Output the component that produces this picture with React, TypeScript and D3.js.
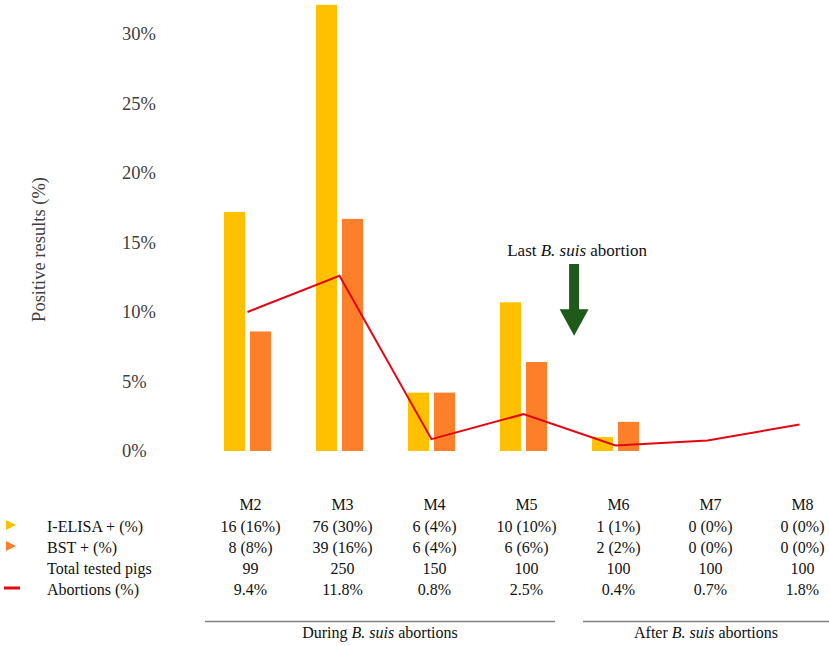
import React from 'react';
import * as d3 from 'd3';

// months shown on the x axis / table columns
const categories = ['M2', 'M3', 'M4', 'M5', 'M6', 'M7', 'M8'];

// bar heights as plotted (%)
const elisaPct = [17.2, 32.1, 4.2, 10.7, 1.0, 0, 0];
const bstPct = [8.6, 16.7, 4.2, 6.4, 2.1, 0, 0];
// abortion line as plotted (%)
const abortionPct = [10.0, 12.6, 0.85, 2.65, 0.4, 0.75, 1.9];

// table rows
const elisaLabels = ['16 (16%)', '76 (30%)', '6 (4%)', '10 (10%)', '1 (1%)', '0 (0%)', '0 (0%)'];
const bstLabels = ['8 (8%)', '39 (16%)', '6 (4%)', '6 (6%)', '2 (2%)', '0 (0%)', '0 (0%)'];
const totalTested = ['99', '250', '150', '100', '100', '100', '100'];
const abortionLabels = ['9.4%', '11.8%', '0.8%', '2.5%', '0.4%', '0.7%', '1.8%'];

const yTicks = [0, 5, 10, 15, 20, 25, 30];

const W = 829;
const H = 646;
const FONT = 'Liberation Serif, DejaVu Serif, serif';
const ELISA = '#FFC000';
const BST = '#FD7F29';
const RED = '#E30613';
const GREEN = '#1F5A1B';

const App: React.FC = () => {
  const x = d3.scaleBand<string>().domain(categories).range([201.5, 201.5 + 92 * categories.length]).padding(0);
  const y = d3.scaleLinear().domain([0, 30]).range([451, 34]);
  const step = x.step();
  const cx = (c: string) => (x(c) as number) + step / 2;
  const barW = 21;

  const line = d3
    .line<number>()
    .x((_, i) => cx(categories[i]))
    .y((d) => y(d));

  // table rows
  const rowY = { head: 508, elisa: 530, bst: 551, total: 572, abort: 593 };
  const tableX = (c: string) => cx(c) + 3;

  // arrow between M5 and M6
  const ax = cx('M5') + step * 0.55;
  const aTop = y(13.45);
  const aNeck = y(10.2);
  const aTip = y(8.3);
  const arrow = [
    [ax - 5, aTop],
    [ax + 5, aTop],
    [ax + 5, aNeck],
    [ax + 14.5, aNeck],
    [ax, aTip],
    [ax - 14.5, aNeck],
    [ax - 5, aNeck],
  ];

  const duringStart = 205;
  const duringEnd = 555;
  const afterStart = 583;
  const afterEnd = 829;

  return (
    <svg
      width={W}
      height={H}
      fontFamily={FONT}
      style={{ position: 'absolute', left: 0, top: 0, background: '#fff' }}
    >
      {/* y axis labels */}
      <g fill="#404040" fontSize={18.5} fontFamily={FONT}>
        {yTicks.map((t) => (
          <text key={t} x={122} y={y(t)} dy="0.35em">
            {t}%
          </text>
        ))}
      </g>
      <text
        transform={`translate(45,${y(14.5)}) rotate(-90)`}
        textAnchor="middle"
        fontSize={18.5}
        fontFamily={FONT}
        fill="#404040"
      >
        Positive results (%)
      </text>

      {/* bars */}
      <g>
        {categories.map((c, i) => (
          <g key={c}>
            {elisaPct[i] > 0 && (
              <rect x={cx(c) - 23.5} y={y(elisaPct[i])} width={barW} height={y(0) - y(elisaPct[i])} fill={ELISA} />
            )}
            {bstPct[i] > 0 && (
              <rect x={cx(c) + 2.5} y={y(bstPct[i])} width={barW} height={y(0) - y(bstPct[i])} fill={BST} />
            )}
          </g>
        ))}
      </g>

      {/* abortion line */}
      <path d={line(abortionPct) || ''} fill="none" stroke={RED} strokeWidth={2} />

      {/* annotation */}
      <text x={ax + 3} y={256} textAnchor="middle" fontSize={17} fontFamily={FONT} fill="#111">
        Last <tspan fontStyle="italic">B. suis</tspan> abortion
      </text>
      <polygon points={arrow.map((p) => p.join(',')).join(' ')} fill={GREEN} />

      {/* data table */}
      <g fontSize={16} fontFamily={FONT} fill="#111" textAnchor="middle">
        {categories.map((c, i) => (
          <g key={c}>
            <text x={tableX(c)} y={rowY.head} dy="0.1em">{c}</text>
            <text x={tableX(c)} y={rowY.elisa} dy="0.1em">{elisaLabels[i]}</text>
            <text x={tableX(c)} y={rowY.bst} dy="0.1em">{bstLabels[i]}</text>
            <text x={tableX(c)} y={rowY.total} dy="0.1em">{totalTested[i]}</text>
            <text x={tableX(c)} y={rowY.abort} dy="0.1em">{abortionLabels[i]}</text>
          </g>
        ))}
      </g>

      {/* legend column */}
      <g fontSize={16} fontFamily={FONT} fill="#111">
        <polygon points={`6,${rowY.elisa - 10} 16,${rowY.elisa - 5} 6,${rowY.elisa}`} fill={ELISA} />
        <text x={47} y={rowY.elisa} dy="0.1em">I-ELISA + (%)</text>
        <polygon points={`6,${rowY.bst - 10} 16,${rowY.bst - 5} 6,${rowY.bst}`} fill={BST} />
        <text x={47} y={rowY.bst} dy="0.1em">BST + (%)</text>
        <text x={47} y={rowY.total} dy="0.1em">Total tested pigs</text>
        <line x1={4} x2={20} y1={rowY.abort - 5} y2={rowY.abort - 5} stroke={RED} strokeWidth={3} />
        <text x={47} y={rowY.abort} dy="0.1em">Abortions (%)</text>
      </g>

      {/* period brackets */}
      <g stroke="#808080" strokeWidth={1.5}>
        <line x1={duringStart} x2={duringEnd} y1={621.5} y2={621.5} />
        <line x1={afterStart} x2={afterEnd} y1={621.5} y2={621.5} />
      </g>
      <g fontSize={16} fontFamily={FONT} fill="#111" textAnchor="middle">
        <text x={(duringStart + duringEnd) / 2} y={638}>
          During <tspan fontStyle="italic">B. suis</tspan> abortions
        </text>
        <text x={(afterStart + afterEnd) / 2} y={638}>
          After <tspan fontStyle="italic">B. suis</tspan> abortions
        </text>
      </g>
    </svg>
  );
};

export default App;
